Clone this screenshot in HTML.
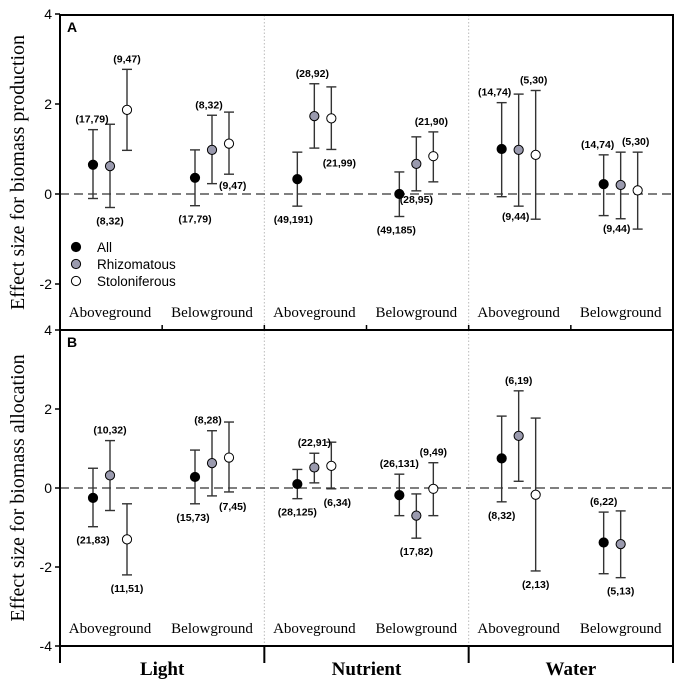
<!DOCTYPE html>
<html><head><meta charset="utf-8"><style>
html,body{margin:0;padding:0;background:#fff;}
svg{display:block;}
.t{font-family:"Liberation Sans",Arial,sans-serif;}
.s{font-family:"Liberation Serif","Times New Roman",serif;}
</style></head><body>
<svg id="chart" width="680" height="685" viewBox="0 0 680 685" xmlns="http://www.w3.org/2000/svg"></svg>
<script>
const groups = ["Light","Nutrient","Water"];
const organs = ["Aboveground","Belowground"];
const seriesNames = ["All","Rhizomatous","Stoloniferous"];
const yTicksA = [4,2,0,-2];
const yTicksB = [4,2,0,-2,-4];
// Panel A: [mean, upper, lower] per series per subgroup (L-A, L-B, N-A, N-B, W-A, W-B)
const aAll   = [[0.65,1.43,-0.1],[0.36,0.98,-0.26],[0.33,0.93,-0.27],[0.0,0.49,-0.5],[1.0,2.03,-0.06],[0.22,0.87,-0.48]];
const aRhiz  = [[0.62,1.55,-0.3],[0.98,1.75,0.23],[1.73,2.45,1.02],[0.67,1.27,0.07],[0.98,2.22,-0.27],[0.2,0.93,-0.55]];
const aStol  = [[1.87,2.77,0.97],[1.12,1.82,0.44],[1.68,2.38,0.99],[0.84,1.38,0.27],[0.87,2.3,-0.56],[0.08,0.93,-0.78]];
// Panel B
const bAll   = [[-0.25,0.5,-0.98],[0.28,0.96,-0.4],[0.1,0.47,-0.27],[-0.18,0.35,-0.7],[0.75,1.82,-0.35],[-1.38,-0.61,-2.17]];
const bRhiz  = [[0.32,1.2,-0.57],[0.63,1.45,-0.2],[0.52,0.88,0.13],[-0.7,-0.15,-1.27],[1.32,2.46,0.17],[-1.42,-0.58,-2.27]];
const bStol  = [[-1.3,-0.4,-2.2],[0.77,1.67,-0.1],[0.56,1.16,-0.02],[-0.02,0.64,-0.7],[-0.17,1.77,-2.1],null];
// sample-size labels: [subgroup, series, text]
const aLabels = [[0,0,"(17,79)"],[0,1,"(8,32)"],[0,2,"(9,47)"],[1,0,"(17,79)"],[1,1,"(8,32)"],[1,2,"(9,47)"],
 [2,0,"(49,191)"],[2,1,"(28,92)"],[2,2,"(21,99)"],[3,0,"(49,185)"],[3,1,"(28,95)"],[3,2,"(21,90)"],
 [4,0,"(14,74)"],[4,1,"(9,44)"],[4,2,"(5,30)"],[5,0,"(14,74)"],[5,1,"(9,44)"],[5,2,"(5,30)"]];
const bLabels = [[0,0,"(21,83)"],[0,1,"(10,32)"],[0,2,"(11,51)"],[1,0,"(15,73)"],[1,1,"(8,28)"],[1,2,"(7,45)"],
 [2,0,"(28,125)"],[2,1,"(22,91)"],[2,2,"(6,34)"],[3,0,"(26,131)"],[3,1,"(17,82)"],[3,2,"(9,49)"],
 [4,0,"(8,32)"],[4,1,"(6,19)"],[4,2,"(2,13)"],[5,0,"(6,22)"],[5,1,"(5,13)"]];
// label placement style (not data): [placement, dx, dy]
const aPlace = [["top",-1,0],["bot",0,0],["top",0,0],["bot",0,0],["top",-3,0],["right",-16,15],
 ["bot",-4,0],["top",-2,0],["bot",8,0],["bot",-3,0],["bot",0,-5],["top",-2,0],
 ["top",-7,0],["bot",-3,-3],["top",-2,0],["top",-6,0],["bot",-4,-4],["top",-2,0]];
const bPlace = [["bot",0,0],["top",0,0],["bot",0,0],["bot",-2,0],["top",-4,0],["right",-16,18],
 ["bot",0,0],["top",0,0],["bot",6,0],["top",0,0],["bot",0,0],["top",0,0],
 ["bot",0,0],["top",0,0],["bot",0,0],["top",0,0],["bot",0,0]];

const NS="http://www.w3.org/2000/svg";
const svg=document.getElementById('chart');
function mk(tag,attrs,parent,text){const e=document.createElementNS(NS,tag);for(const k in attrs)e.setAttribute(k,attrs[k]);if(text!==undefined)e.textContent=text;(parent||svg).appendChild(e);return e;}
const X0=60,X1=673,groupW=(X1-X0)/3;
function subX(sg){return X0+groupW*(Math.floor(sg/2))+ (sg%2?152:50);}
function serX(sg,s){return subX(sg)+(s-1)*17;}
const panels=[
 {top:15,y0:194,k:45,bottom:330,ticks:yTicksA,data:[aAll,aRhiz,aStol],labels:aLabels,place:aPlace,letter:"A",title:"Effect size for biomass production",name:"panel-a"},
 {top:330,y0:488,k:39.5,bottom:646,ticks:yTicksB,data:[bAll,bRhiz,bStol],labels:bLabels,place:bPlace,letter:"B",title:"Effect size for biomass allocation",name:"panel-b"}
];
const fills=["#000","#9a9aae","#fff"];
panels.forEach(p=>{
 const g=mk('g',{});
 
 
 const Y=v=>p.y0-v*p.k;
 [1,2].forEach(i=>{const d=mk('line',{x1:X0+groupW*i,x2:X0+groupW*i,y1:p.top,y2:p.bottom,stroke:'#bbb','stroke-width':1,'stroke-dasharray':'1.5,2'},g);
  });
 const z=mk('line',{x1:X0,x2:X1,y1:Y(0),y2:Y(0),stroke:'#333','stroke-width':1.3,'stroke-dasharray':'9,5'},g);
 
 const fr=mk('rect',{x:X0,y:p.top,width:X1-X0,height:p.bottom-p.top,fill:'none',stroke:'#000','stroke-width':2},g);
 
 p.ticks.forEach(t=>{
  mk('line',{x1:X0-5,x2:X0,y1:Y(t),y2:Y(t),stroke:'#000','stroke-width':1.5},g);
  const tl=mk('text',{x:X0-8,y:Y(t)+5,'text-anchor':'end','font-size':14,class:'t'},g,String(t));
  
 });
 if(p.letter==="A"){for(let i=0;i<6;i++){const x=X0+groupW*(i/2);mk('line',{x1:x,x2:x,y1:p.bottom,y2:p.bottom-5,stroke:'#000','stroke-width':1.5},g);}}
 for(let sg=0;sg<6;sg++){const ol=mk('text',{x:subX(sg),y:p.bottom-13,'text-anchor':'middle','font-size':15,class:'s'},g,organs[sg%2]);
  }
 const lt=mk('text',{x:67,y:p.top+17,'font-size':14,'font-weight':'bold',class:'t'},g,p.letter);
 
 const cy=(p.top+p.bottom)/2;
 const yt=mk('text',{x:24,y:cy,'text-anchor':'middle','font-size':20,class:'s',transform:`rotate(-90 24 ${cy})`},g,p.title);
 
 p.data.forEach((ser,s)=>{ser.forEach((d,sg)=>{
  if(!d)return;
  const x=serX(sg,s);
  const e=mk('g',{},g);
  
  
  mk('line',{x1:x,x2:x,y1:Y(d[1]),y2:Y(d[2]),stroke:'#333','stroke-width':1.4},e);
  mk('line',{x1:x-5,x2:x+5,y1:Y(d[1]),y2:Y(d[1]),stroke:'#333','stroke-width':1.4},e);
  mk('line',{x1:x-5,x2:x+5,y1:Y(d[2]),y2:Y(d[2]),stroke:'#333','stroke-width':1.4},e);
  mk('circle',{cx:x,cy:Y(d[0]),r:4.6,fill:fills[s],stroke:'#000','stroke-width':1},e);
 });});
 p.labels.forEach((L,i)=>{
  const [sg,s,txt]=L;const d=p.data[s][sg];const pl=p.place[i];
  const x=serX(sg,s);let y,anchor='middle',lx=x;
  if(pl[0]==="top"){y=Y(d[1])-7;}
  else if(pl[0]==="bot"){y=Y(d[2])+17;}
  else {y=Y(d[2]);anchor='start';lx=x+6;}
  const t=mk('text',{x:lx+pl[1],y:y+pl[2],'text-anchor':anchor,'font-size':10.5,'font-weight':'bold',class:'t'},g,txt);
  
 });
});
const lg=mk('g',{});


seriesNames.forEach((n,i)=>{const y=247+i*17;
 const e=mk('g',{},lg);
 
 
 mk('circle',{cx:76,cy:y,r:4.6,fill:fills[i],stroke:'#000','stroke-width':1},e);
 mk('text',{x:97,y:y+5,'font-size':13.5,class:'t'},e,n);});
mk('line',{x1:X0,x2:X1,y1:646,y2:646,stroke:'#000','stroke-width':2});
for(let i=0;i<=3;i++){const x=X0+groupW*i;mk('line',{x1:x,x2:x,y1:646,y2:663,stroke:'#000','stroke-width':2});}
groups.forEach((gname,i)=>{const t=mk('text',{x:X0+groupW*(i+0.5),y:675,'text-anchor':'middle','font-size':19,'font-weight':'bold',class:'s'},svg,gname);
 });
</script>
</body></html>
